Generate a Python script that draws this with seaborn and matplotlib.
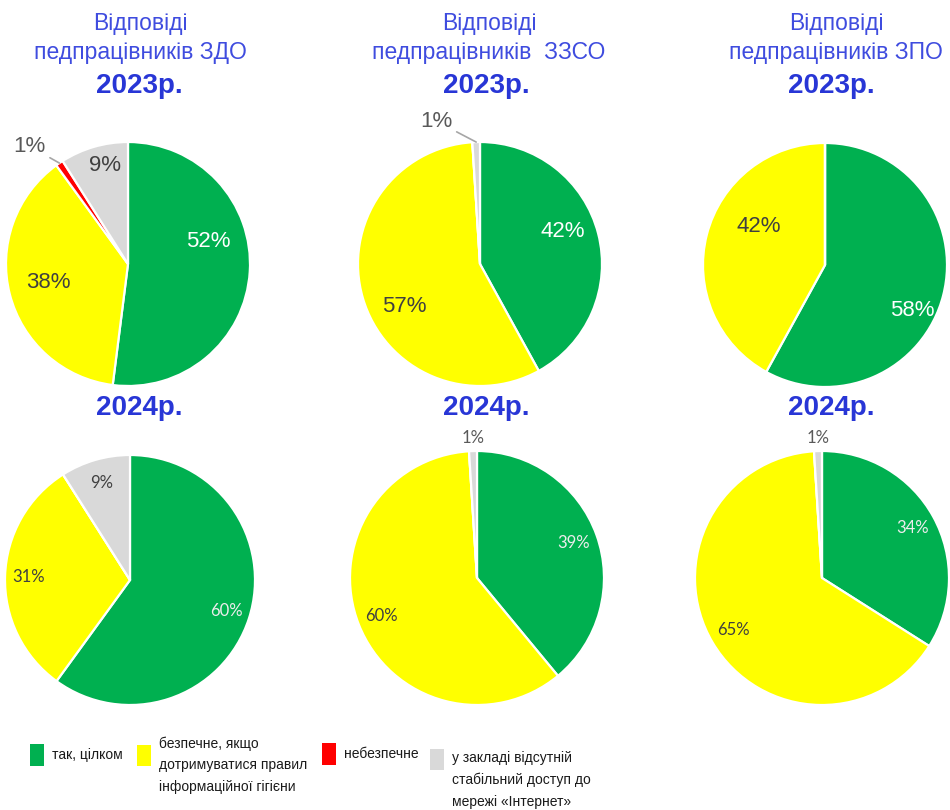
import numpy as np
import matplotlib.pyplot as plt
import seaborn as sns
from matplotlib.patches import Patch

# Data: shares (%) by answer category, order = categories
categories = ['так, цілком',
              'безпечне, якщо\nдотримуватися правил\nінформаційної гігієни',
              'небезпечне',
              'у закладі відсутній\nстабільний доступ до\nмережі «Інтернет»']
group_titles = ['Відповіді\nпедпрацівників ЗДО',
                'Відповіді\nпедпрацівників  ЗЗСО',
                'Відповіді\nпедпрацівників ЗПО']
years = ['2023р.', '2024р.']

zdo_2023 = [52, 38, 1, 9]
zzso_2023 = [42, 57, 0, 1]
zpo_2023 = [58, 42, 0, 0]
zdo_2024 = [60, 31, 0, 9]
zzso_2024 = [39, 60, 0, 1]
zpo_2024 = [34, 65, 0, 1]

colors = ['#00B050', '#FFFF00', '#FF0000', '#D9D9D9']

sns.set_theme(style='white')
plt.rcParams['font.family'] = ['Liberation Sans', 'DejaVu Sans']

W, H = 950, 810
fig = plt.figure(figsize=(W / 100, H / 100), dpi=100)

# pie layout in pixels: (cx, cy, r)
layout_2023 = [(128, 264, 122), (480, 264, 122), (825, 265, 122)]
layout_2024 = [(130, 580, 125), (477, 578, 127), (822, 578, 127)]
# 2023 label placement (angle shift in deg from wedge middle, radial distance)
label_pos_2023 = [[(19, 0.68), (-1, 0.67), None, (-3, 0.83)],
                  [(7, 0.73), (13, 0.71), None, None],
                  [(-13, 0.81), (-16, 0.63), None, None]]
# offsets (px) for small outside labels in 2023 pies
small_offsets = [(-14, 17), (-24, 21), (0, 0)]

title_blue = '#3F4CDF'
year_blue = '#2836D6'
dark = '#404040'


def draw_pie(values, cx, cy, r, year_idx, col):
    ax = fig.add_axes([(cx - r) / W, (H - cy - r) / H, 2 * r / W, 2 * r / H])
    wedges, _ = ax.pie(values, colors=colors, startangle=90, counterclock=False,
                       radius=1, wedgeprops=dict(edgecolor='white', linewidth=1.6))
    ax.set_xlim(-1, 1)
    ax.set_ylim(-1, 1)
    ax.axis('off')
    for i, (w, v) in enumerate(zip(wedges, values)):
        if v <= 0:
            continue
        mid = (w.theta1 + w.theta2) / 2
        if year_idx == 0:
            font = dict(fontsize=16, family=['Liberation Sans', 'DejaVu Sans'])
            pos = label_pos_2023[col][i]
            shift, d = pos if pos else (0, 0.75)
        else:
            font = dict(fontsize=12, family=['Lato', 'DejaVu Sans'])
            shift, d = 0, 0.81
        ang = np.deg2rad(mid + shift)
        tcolor = 'white' if i == 0 else dark
        if year_idx == 1 and i == 0:
            tcolor = '#EDEDED'
        if v < 3:
            px, py = np.cos(np.deg2rad(mid)), np.sin(np.deg2rad(mid))
            if year_idx == 0:
                ax.annotate(f'{v}%', xy=(px, py), xytext=small_offsets[col],
                            textcoords='offset pixels', ha='right', va='center',
                            color='#595959', annotation_clip=False,
                            arrowprops=dict(arrowstyle='-', color='#A6A6A6', lw=1.2,
                                            shrinkA=1, shrinkB=0),
                            **font)
            else:
                ax.text(1.1 * px, 1.1 * py, f'{v}%', ha='center', va='center',
                        color='#595959', clip_on=False, **font)
        else:
            ax.text(d * np.cos(ang), d * np.sin(ang), f'{v}%', ha='center',
                    va='center', color=tcolor, **font)
    return ax


for col, vals in enumerate([zdo_2023, zzso_2023, zpo_2023]):
    draw_pie(vals, *layout_2023[col], 0, col)
for col, vals in enumerate([zdo_2024, zzso_2024, zpo_2024]):
    draw_pie(vals, *layout_2024[col], 1, col)

# titles
title_x = [140, 489, 836]
year_x = [139, 486, 831]
for col in range(3):
    fig.text(title_x[col] / W, 1 - 38 / H, group_titles[col], ha='center', va='center',
             fontsize=16.5, color=title_blue, linespacing=1.3)
    fig.text(year_x[col] / W, 1 - 86 / H, years[0], ha='center', va='center',
             fontsize=20, fontweight='bold', color=year_blue)
    fig.text(year_x[col] / W, 1 - 408 / H, years[1], ha='center', va='center',
             fontsize=20, fontweight='bold', color=year_blue)

# legend: one entry per box, placed like the source layout
legend_x = [30, 137, 322, 430]
legend_y = [755, 754, 754, 758]
legend_pad = ['', '\n', '', '\n\n']
for c, lab, x, y, pad in zip(colors, categories, legend_x, legend_y, legend_pad):
    fig.legend([Patch(facecolor=c, edgecolor='none')], [pad + lab], loc='center left',
               bbox_to_anchor=(x / W, 1 - y / H), frameon=False, borderpad=0,
               borderaxespad=0, handlelength=1.0, handleheight=1.95,
               handletextpad=0.6, labelspacing=0,
               prop=dict(family=['Liberation Sans', 'DejaVu Sans'], size=10))
for leg in fig.legends:
    for t in leg.get_texts():
        t.set_linespacing(1.7)
        t.set_color('#1A1A1A')

fig.savefig('out.png', dpi=100, facecolor='white')
